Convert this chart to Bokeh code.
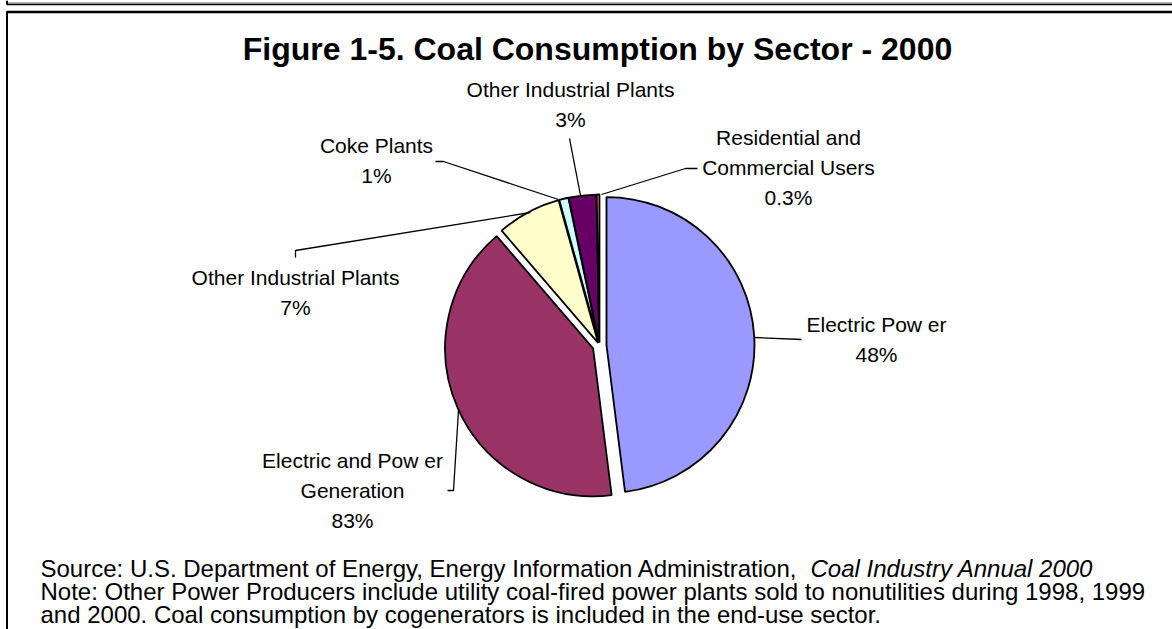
from bokeh.plotting import figure
from bokeh.models import Range1d, ColumnDataSource
from bokeh.core.properties import value
from bokeh.embed import file_html
from bokeh.resources import INLINE
import math

# ---- data ----
sectors = ["Electric Power", "Electric and Power Generation", "Other Industrial Plants",
           "Coke Plants", "Other Industrial Plants (2)", "Residential and Commercial Users"]
shares = [48, 40.7, 7, 1, 3, 0.3]
label_texts = [["Electric Pow er", "48%"],
               ["Electric and Pow er", "Generation", "83%"],
               ["Other Industrial Plants", "7%"],
               ["Coke Plants", "1%"],
               ["Other Industrial Plants", "3%"],
               ["Residential and", "Commercial Users", "0.3%"]]
colors = ["#9999FF", "#993366", "#FFFFCC", "#CCFFFF", "#660066", "#FF8080"]
explode = [7, 7, 3, 3, 3, 3]

title = "Figure 1-5. Coal Consumption by Sector - 2000"
source_text = "Source: U.S. Department of Energy, Energy Information Administration,"
source_italic = "Coal Industry Annual 2000"
note_lines = ["Note: Other Power Producers include utility coal-fired power plants sold to nonutilities during 1998, 1999",
              "and 2000. Coal consumption by cogenerators is included in the end-use sector."]

W, H = 1172, 629
FONT = value("Liberation Sans")

p = figure(width=W, height=H, output_backend="svg", toolbar_location=None,
           x_range=Range1d(0, W), y_range=Range1d(0, H), min_border=0)
p.axis.visible = False
p.grid.visible = False
p.outline_line_color = None
p.background_fill_color = "white"


def Y(y):
    return H - y


# borders
p.line([6, 1172], [Y(2.5), Y(2.5)], line_color="#777777", line_width=1.2)
p.line([6, 1172], [Y(4), Y(4)], line_color="black", line_width=1.5)
p.line([6.5, 6.5], [Y(0), Y(4)], line_color="black", line_width=2)
p.line([6, 1172], [Y(11.5), Y(11.5)], line_color="black", line_width=2.5)
p.line([6.5, 6.5], [Y(11), Y(640)], line_color="black", line_width=2)

# pie
cx, cy, r = 599, 345, 148
total = sum(shares)
xs, ys, sa, ea = [], [], [], []
acc = 0.0
for v, e in zip(shares, explode):
    t0 = acc / total * 360
    t1 = (acc + v) / total * 360
    acc += v
    mid = math.radians((t0 + t1) / 2)
    xs.append(cx + e * math.sin(mid))
    ys.append(Y(cy + e * -math.cos(mid)))
    sa.append(math.radians(90 - t0))
    ea.append(math.radians(90 - t1))
src = ColumnDataSource(dict(x=xs, y=ys, sa=sa, ea=ea, color=colors))
p.wedge(x="x", y="y", radius=r, start_angle="sa", end_angle="ea", direction="clock",
        fill_color="color", line_color="black", line_width=1.8, source=src)

# leader lines
leaders = [
    [(754, 337), (801, 339)],
    [(458, 410), (453, 490), (447, 490)],
    [(530, 212), (295, 250), (295, 257)],
    [(558, 199), (443, 161), (435, 161)],
    [(580, 195), (569, 138)],
    [(601, 194), (685, 168), (697, 168)],
]
for pts in leaders:
    p.line([q[0] for q in pts], [Y(q[1]) for q in pts], line_color="black", line_width=1.3)

# labels
label_pos = [(876, 324), (352, 460), (295, 277), (376, 145), (570, 89), (788, 137)]
LS = 30
tx, ty, tt = [], [], []
for (lx, ly), lines in zip(label_pos, label_texts):
    for i, s in enumerate(lines):
        tx.append(lx)
        ty.append(Y(ly + i * LS))
        tt.append(s)
p.text(x=tx, y=ty, text=tt, text_font=FONT, text_font_size="21px", text_align="center",
       text_baseline="middle", text_color="black")

# title
p.text(x=[597], y=[Y(48)], text=[title], text_font=FONT, text_font_size="32px",
       text_font_style="bold", text_align="center", text_baseline="middle", text_color="black")

# source / note
p.text(x=[40], y=[Y(568)], text=[source_text], text_font=FONT, text_font_size="24px",
       text_align="left", text_baseline="middle", text_color="black")
p.text(x=[810], y=[Y(568)], text=[source_italic], text_font=FONT, text_font_size="24px",
       text_font_style="italic", text_align="left", text_baseline="middle", text_color="black")
p.text(x=[40, 40], y=[Y(591), Y(614)], text=note_lines, text_font=FONT, text_font_size="24px",
       text_align="left", text_baseline="middle", text_color="black")

open("out.html", "w").write(file_html(p, INLINE))
